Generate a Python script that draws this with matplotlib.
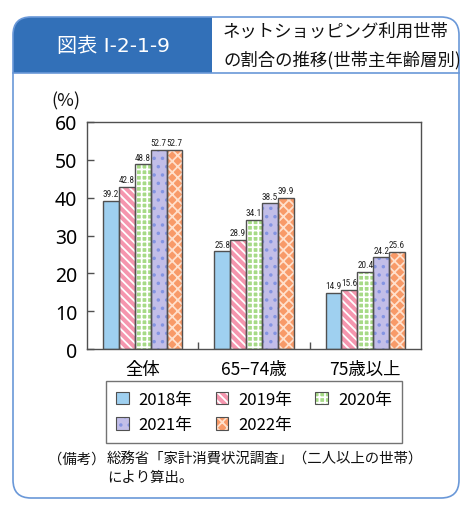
import matplotlib
matplotlib.use("Agg")
import matplotlib.pyplot as plt
from matplotlib.patches import FancyBboxPatch, Rectangle, Patch
from matplotlib.font_manager import fontManager
import numpy as np

plt.rcParams['font.family'] = ['Noto Sans CJK JP', 'DejaVu Sans']
plt.rcParams['hatch.linewidth'] = 1.3

# ---------------- data ----------------
categories = ["全体", "65−74歳", "75歳以上"]
years = ["2018年", "2019年", "2020年", "2021年", "2022年"]
v2018 = [39.2, 25.8, 14.9]
v2019 = [42.8, 28.9, 15.6]
v2020 = [48.8, 34.1, 20.4]
v2021 = [52.7, 38.5, 24.2]
v2022 = [52.7, 39.9, 25.6]
series = [v2018, v2019, v2020, v2021, v2022]
yticks = [0, 10, 20, 30, 40, 50, 60]

# style per series: facecolor, hatch, hatch colour
styles = [
    ("#9fd0f0", None, "#9fd0f0"),
    ("#f596ae", "\\\\\\\\", "#ffffff"),
    ("#a6da86", "+++", "#ffffff"),
    ("#c2bee8", "..", "#8494e2"),
    ("#f89a68", "xxx", "#ffe0cc"),
]

# narrow font for the value labels, if one is installed
names = {f.name for f in fontManager.ttflist}
cands = ["DejaVu Sans Condensed", "Roboto Condensed", "Liberation Sans Narrow",
         "Open Sans Condensed", "Noto Sans Condensed", "Liberation Sans"]
numfam = next((c for c in cands if c in names), "DejaVu Sans")

W, H = 476, 510
fig = plt.figure(figsize=(W / 100, H / 100), dpi=100)

# background / frame axes in pixel coordinates
bg = fig.add_axes([0, 0, 1, 1], zorder=-1)
bg.set_xlim(0, W)
bg.set_ylim(H, 0)
bg.axis("off")

frame_col = "#6a98d8"
frame = FancyBboxPatch((13, 18), 446, 481, boxstyle="round,pad=0,rounding_size=18",
                       facecolor="white", edgecolor="none", zorder=0)
bg.add_patch(frame)
hdr = Rectangle((13, 18), 199, 56, facecolor="#3270b8", edgecolor="none", zorder=1)
bg.add_patch(hdr)
hdr.set_clip_path(frame)
frame_edge = FancyBboxPatch((13, 18), 446, 481, boxstyle="round,pad=0,rounding_size=18",
                            facecolor="none", edgecolor=frame_col, lw=1.2, zorder=3)
bg.add_patch(frame_edge)
bg.plot([13, 459], [74, 74], color=frame_col, lw=1.2, zorder=3)

bg.text(113, 46, "図表 Ⅰ-2-1-9", color="white", fontsize=14.5, ha="center", va="center",
        family=["DejaVu Sans", "Noto Sans CJK JP"])
bg.text(223, 32, "ネットショッピング利用世帯", color="#111", fontsize=12.5, ha="left", va="center")
bg.text(223, 60, "の割合の推移(世帯主年齢層別)", color="#111", fontsize=12.5, ha="left", va="center")
bg.text(66, 101, "(%)", color="#111", fontsize=13, ha="center", va="center")

bg.text(48, 460, "（備考）", color="#111", fontsize=10.4, ha="left", va="center")
bg.text(107, 460, "総務省「家計消費状況調査」（二人以上の世帯）", color="#111", fontsize=10.4,
        ha="left", va="center")
bg.text(107, 478, "により算出。", color="#111", fontsize=10.4, ha="left", va="center")

# ---------------- chart ----------------
ax = fig.add_axes([87 / W, 1 - 350 / H, 334 / W, 227 / H])
x = np.arange(len(categories))
bw = 0.143

# size value labels so that they are about as wide as in the reference (~16 px)
renderer = fig.canvas.get_renderer()
probe = fig.text(0, 0, "39.2", family=[numfam, "DejaVu Sans"], fontsize=10)
wpx = probe.get_window_extent(renderer).width
probe.remove()
num_size = min(10.0, 10.0 * 16.0 / wpx)
num_font = dict(family=[numfam, "DejaVu Sans"], fontsize=num_size)

edge = "#505050"
for i, (vals, (fc, hatch, hc)) in enumerate(zip(series, styles)):
    pos = x + (i - 2) * bw
    ax.bar(pos, vals, width=bw, color=fc, edgecolor=hc, hatch=hatch, lw=0, zorder=2)
    ax.bar(pos, vals, width=bw, fill=False, edgecolor=edge, lw=1.0, zorder=3)
    for px_, v in zip(pos, vals):
        ax.text(px_, v + 0.7, f"{v:.1f}", ha="center", va="bottom", color="#222",
                **num_font)

ax.set_xlim(-0.5, 2.5)
ax.set_ylim(0, 60)
ax.set_yticks(yticks)
ax.set_yticklabels([str(t) for t in yticks], family=["Noto Sans", "DejaVu Sans"],
                   fontsize=14)
ax.tick_params(axis="y", direction="in", length=5, width=1, color=edge, pad=7)
ax.set_xticks(x)
ax.set_xticklabels(categories, fontsize=12.5)
ax.tick_params(axis="x", length=0, pad=8)
ax.set_xticks([0.5, 1.5], minor=True)
ax.tick_params(axis="x", which="minor", direction="in", length=5, width=1, color=edge)
for s in ax.spines.values():
    s.set_color(edge)
    s.set_linewidth(1.0)

# ---------------- legend ----------------
handles = []
for fc, hatch, hc in styles:
    p1 = Patch(facecolor=fc, edgecolor=hc, hatch=hatch, lw=0)
    p2 = Patch(facecolor="none", edgecolor=edge, lw=0.8)
    handles.append((p1, p2))
order = [0, 3, 1, 4, 2]
leg = fig.legend([handles[k] for k in order], [years[k] for k in order], ncol=3,
                 loc="upper left", bbox_to_anchor=(106 / W, 1 - 382 / H),
                 bbox_transform=fig.transFigure, frameon=True, fancybox=False,
                 edgecolor=edge, fontsize=12, handlelength=0.75, handleheight=0.75,
                 handletextpad=0.6, columnspacing=1.4, borderaxespad=0,
                 borderpad=0.6, labelspacing=0.5)
leg.get_frame().set_linewidth(1.0)

fig.savefig("out.png", dpi=100)
